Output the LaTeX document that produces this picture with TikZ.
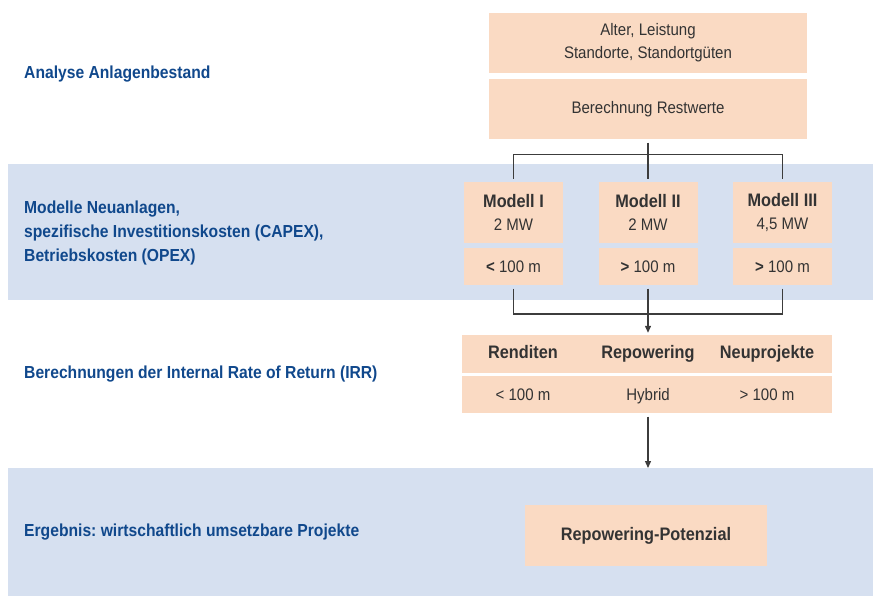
\documentclass[tikz,border=0pt]{standalone}
\usepackage{fontspec}
\setmainfont{Liberation Sans}[FakeStretch=0.9]
\usetikzlibrary{positioning,arrows.meta}
\definecolor{peach}{RGB}{250,218,195}
\definecolor{bandblue}{RGB}{214,224,240}
\definecolor{labelblue}{RGB}{16,72,140}
\definecolor{boxtext}{RGB}{51,51,51}
\definecolor{linegray}{RGB}{60,60,60}
\frenchspacing
\newcommand{\mhead}[1]{{\fontsize{18.1}{23}\selectfont\bfseries #1}}
\tikzset{
  band/.style={fill=bandblue, inner sep=0pt, anchor=north west},
  box/.style={fill=peach, text=boxtext, inner sep=0pt, align=center, font=\fontsize{16.7}{23}\selectfont},
  celltext/.style={inner sep=0pt, anchor=base, text=boxtext, font=\fontsize{16.7}{23}\selectfont},
  steplabel/.style={anchor=west, inner sep=0pt, text=labelblue, align=left, font=\fontsize{17.4}{24}\selectfont\bfseries},
  link/.style={draw=linegray, line width=1.3pt, shorten <=3pt},
  flow/.style={link, -{Triangle[length=7pt,width=6pt]}}
}
\begin{document}
\begin{tikzpicture}[x=1pt, y=-1pt]
\useasboundingbox (0,0) rectangle (873,596);
% background bands
\node[band, minimum width=865pt, minimum height=136pt] (band1) at (8,164) {};
\node[band, minimum width=865pt, minimum height=128pt] (band2) at (8,468) {};
% step labels
\node[steplabel] (analyse) at (24,74) {Analyse Anlagenbestand};
\node[steplabel] (modelle) at (24,233) {Modelle Neuanlagen,\\spezifische Investitionskosten (CAPEX),\\Betriebskosten (OPEX)};
\node[steplabel] (irr) at (24,374) {Berechnungen der Internal Rate of Return (IRR)};
\node[steplabel] (ergebnis) at (24,532) {Ergebnis: wirtschaftlich umsetzbare Projekte};
% Anlagenbestand
\node[box, minimum width=318pt, minimum height=60pt] (bestand) at (648,43) {Alter, Leistung\\Standorte, Standortg\"uten};
\node[box, minimum width=318pt, minimum height=60pt, below=6pt of bestand] (restwert) {Berechnung Restwerte};
% Modelle
\node[box, minimum width=99pt, minimum height=61pt] (modI) at (513.5,212.5) {\mhead{Modell I}\\2 MW};
\node[box, minimum width=99pt, minimum height=37pt, below=5pt of modI] (distI) {\textbf{<} 100 m};
\node[box, minimum width=99pt, minimum height=61pt] (modII) at (648,212.5) {\mhead{Modell II}\\2 MW};
\node[box, minimum width=99pt, minimum height=37pt, below=5pt of modII] (distII) {\textbf{>} 100 m};
\node[box, minimum width=99pt, minimum height=61pt] (modIII) at (782.5,212.5) {\mhead{Modell III}\\4,5 MW};
\node[box, minimum width=99pt, minimum height=37pt, below=5pt of modIII] (distIII) {\textbf{>} 100 m};
% IRR
\node[box, minimum width=370pt, minimum height=38pt] (irrhead) at (647,354) {};
\node[box, minimum width=370pt, minimum height=37pt, below=3pt of irrhead] (irrval) {};
\node[celltext] (renditen) at (523,358) {\mhead{Renditen}};
\node[celltext] (repowering) at (648,358) {\mhead{Repowering}};
\node[celltext] (neu) at (767,358) {\mhead{Neuprojekte}};
\node[celltext] (kurz) at (523,400) {< 100 m};
\node[celltext] (hybrid) at (648,400) {Hybrid};
\node[celltext] (weit) at (767,400) {> 100 m};
% Ergebnis
\node[box, minimum width=242pt, minimum height=61pt] (potenzial) at (646,535.5) {\mhead{Repowering-Potenzial}};
% connectors
\draw[link] (restwert.south) -- ++(0,15) coordinate (split);
\draw[link, shorten <=0pt, shorten >=3pt] (split) -| (modI.north);
\draw[link, shorten <=0pt, shorten >=3pt] (split) -- (modII.north);
\draw[link, shorten <=0pt, shorten >=3pt] (split) -| (modIII.north);
\coordinate (merge) at (648,314);
\draw[link] (distI.south) |- (merge);
\draw[link] (distIII.south) |- (merge);
\draw[flow, shorten >=2pt] (distII.south) -- (irrhead.north -| distII.south);
\draw[flow] (irrval.south -| distII.south) -- (band2.north -| distII.south);
\end{tikzpicture}
\end{document}
